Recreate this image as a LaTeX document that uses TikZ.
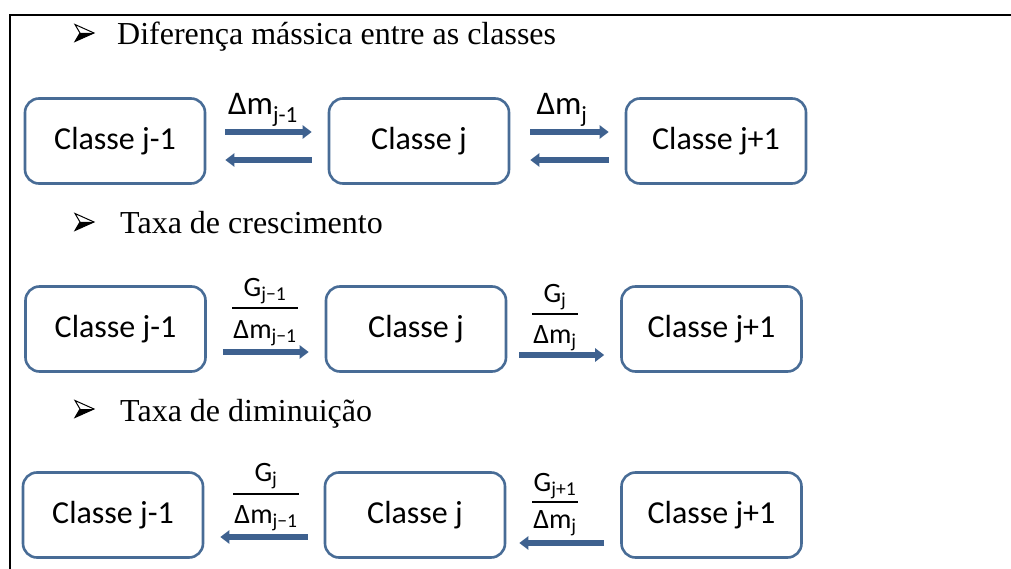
\documentclass[tikz,border=0pt]{standalone}
\usepackage{fontspec}
\setmainfont{Liberation Serif}
\newfontfamily\boxfont{Carlito}
\usetikzlibrary{arrows.meta}
\definecolor{edgeblue}{RGB}{72,108,150}
\definecolor{arrowblue}{RGB}{62,97,143}

\begin{document}
\begin{tikzpicture}[x=1pt,y=-1pt,
  classbox/.style={draw=edgeblue,line width=2.6pt,rounded corners=14pt,
    minimum width=180pt,minimum height=85pt,inner sep=0pt,
    font=\boxfont\fontsize{32}{36}\selectfont},
  flow/.style={draw=arrowblue,line width=5.5pt,
    -{Triangle[length=9pt,width=13pt]},shorten <=16pt,shorten >=16pt},
  heading/.style={anchor=base west,inner sep=0pt,
    font=\fontsize{32}{36}\selectfont},
  rate/.style={inner sep=0pt,anchor=base,font=\boxfont\fontsize{33}{36}\selectfont},
  frac/.style={inner sep=0pt,anchor=base,font=\boxfont\fontsize{28}{32}\selectfont},
  fracbar/.style={line width=1.8pt,shorten <=-1pt,shorten >=-1pt},
  pics/bulletmark/.style={code={
    \draw[line width=1pt,line join=miter] (0,-8.5) -- (19,0) -- (0,8.5) -- (5,0) -- cycle;
    \fill (5,0) -- (19,0) -- (0,8.5) -- cycle;}}]

\useasboundingbox (0,0) rectangle (1011,569);

% frame: top rule and left rule
\draw[line width=1.6pt] (1011,15) -- (10,15) -- (10,569);

% headings with arrowhead bullets
\pic at (75,33) {bulletmark};
\node[heading] (h1) at (117,45) {Diferença mássica entre as classes};
\pic at (75,222) {bulletmark};
\node[heading] (h2) at (120,234) {Taxa de crescimento};
\pic at (75,409) {bulletmark};
\node[heading] (h3) at (120,421) {Taxa de diminuição};

% row 1: mass difference between classes
\node[classbox] (a1) at (115,141) {Classe j-1};
\node[classbox] (b1) at (419,141) {Classe j};
\node[classbox] (c1) at (716,141) {Classe j+1};
\draw[flow,shorten <=19pt] ([yshift=9pt]a1.east) -- ([yshift=9pt]b1.west);
\draw[flow,shorten >=19pt] ([yshift=-19pt]b1.west) -- ([yshift=-19pt]a1.east);
\draw[flow,shorten <=20pt] ([yshift=9pt]b1.east) -- ([yshift=9pt]c1.west);
\draw[flow,shorten >=20pt] ([yshift=-19pt]c1.west) -- ([yshift=-19pt]b1.east);
\node[rate] (l1) at (263,115) {Δm\textsubscript{j-1}};
\node[rate] (l2) at (562,115) {Δm\textsubscript{j}};

% row 2: growth rate
\node[classbox] (a2) at (115.5,329) {Classe j-1};
\node[classbox] (b2) at (416,329) {Classe j};
\node[classbox] (c2) at (711.5,329) {Classe j+1};
\draw[flow] ([yshift=-23pt]a2.east) -- ([yshift=-23pt]b2.west);
\draw[flow,shorten <=12pt] ([yshift=-26pt]b2.east) -- ([yshift=-26pt]c2.west);
\node[frac] (f1n) at (265,296) {G\textsubscript{j−1}};
\node[frac] (f1d) at (265,338) {Δm\textsubscript{j−1}};
\draw[fracbar] ([yshift=30pt]f1d.base west) -- ([yshift=30pt]f1d.base east);
\node[frac] (f2n) at (555,302) {G\textsubscript{j}};
\node[frac] (f2d) at (555,343) {Δm\textsubscript{j}};
\draw[fracbar] ([yshift=29pt]f2d.base west) -- ([yshift=29pt]f2d.base east);

% row 3: decrease rate
\node[classbox] (a3) at (113,515) {Classe j-1};
\node[classbox] (b3) at (415,515) {Classe j};
\node[classbox] (c3) at (711.5,515) {Classe j+1};
\draw[flow] ([yshift=-22pt]b3.west) -- ([yshift=-22pt]a3.east);
\draw[flow,shorten >=13pt] ([yshift=-28pt]c3.west) -- ([yshift=-28pt]b3.east);
\node[frac] (f3n) at (266,481) {G\textsubscript{j}};
\node[frac] (f3d) at (266,523) {Δm\textsubscript{j−1}};
\draw[fracbar] ([yshift=29pt]f3d.base west) -- ([yshift=29pt]f3d.base east);
\node[frac] (f4n) at (555,491) {G\textsubscript{j+1}};
\node[frac] (f4d) at (555,528) {Δm\textsubscript{j}};
\draw[fracbar] ([yshift=26pt]f4d.base west) -- ([yshift=26pt]f4d.base east);
\end{tikzpicture}
\end{document}
